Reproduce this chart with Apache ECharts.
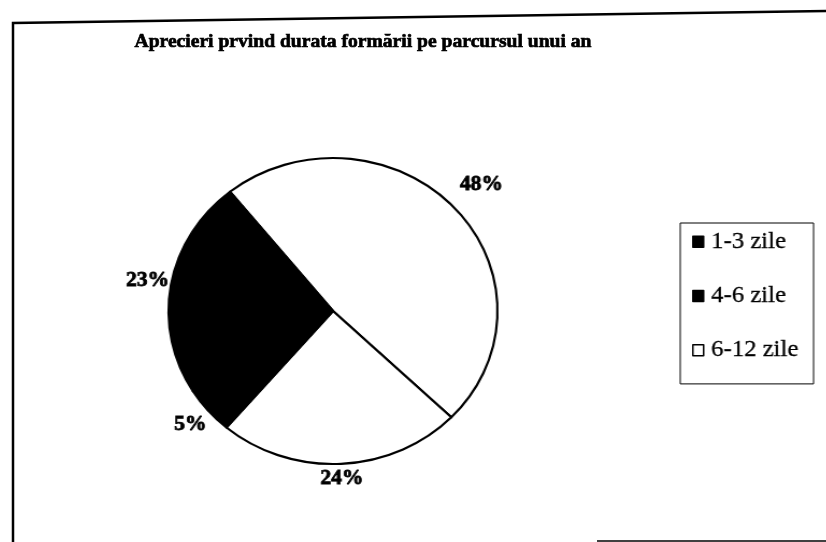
<!DOCTYPE html>
<html>
<head>
<meta charset="utf-8">
<script src="https://cdn.jsdelivr.net/npm/echarts@6/dist/echarts.min.js"></script>
<style>
  html, body { margin: 0; padding: 0; background: #fff; }
  #wrap { position: relative; width: 826px; height: 542px; overflow: hidden; }
  #frame, #pie { position: absolute; left: 0; top: 0; width: 826px; height: 542px; }
  /* the pie layer is widened a little so the disc reads as a slightly flattened ellipse */
  #pie { transform-origin: 333px 311px; transform: scale(1.075, 1); }
</style>
</head>
<body>
<div id="wrap">
  <div id="frame"></div>
  <div id="pie"></div>
</div>
<script>
// Slice names and shares (percent), clockwise from the upper-left edge
const sliceNames = ['6-12 zile', 'peste 12 zile', '4-6 zile', '1-3 zile'];
const sliceValues = [48, 24, 5, 23];
const sliceColors = ['#ffffff', '#ffffff', '#000000', '#000000'];
// Entries listed in the legend box
const legendNames = ['1-3 zile', '4-6 zile', '6-12 zile'];
const titleText = 'Aprecieri prvind durata formării pe parcursul unui an';

const SERIF = '"Liberation Serif", "Times New Roman", serif';

// Geometry of the pie (in the pie layer's own coordinates)
const CX = 333, CY = 311, R = 153;
const START_ANGLE = 128.8;              // ECharts convention: degrees CCW from 3 o'clock
const labelGaps = [34, 15, 22, 22];     // how far each label centre sits beyond the rim

const total = sliceValues.reduce((a, b) => a + b, 0);

// Background layer: title and the hand-ruled frame
const frameChart = echarts.init(document.getElementById('frame'));
frameChart.setOption({
  animation: false,
  backgroundColor: '#ffffff',
  title: {
    text: titleText,
    left: 358,
    textAlign: 'center',
    top: 27,
    textStyle: {
      fontFamily: SERIF,
      fontWeight: 'bold',
      fontSize: 19.6,
      color: '#000',
      textBorderColor: '#000',
      textBorderWidth: 0.7
    }
  },
  graphic: [
    {
      type: 'polyline',
      shape: { points: [[826, 11], [13, 23], [13, 542]] },
      style: { stroke: '#000', lineWidth: 2.5, fill: null }
    },
    {
      type: 'line',
      shape: { x1: 597, y1: 541, x2: 826, y2: 541 },
      style: { stroke: '#000', lineWidth: 1.5 }
    }
  ]
});

// Pie layer: slices, percentage labels and the legend box
const pieChart = echarts.init(document.getElementById('pie'));
const seriesData = sliceNames.map((name, i) => ({
  name: name,
  value: sliceValues[i],
  itemStyle: { color: sliceColors[i] }
}));

pieChart.setOption({
  animation: false,
  legend: {
    data: legendNames,
    orient: 'vertical',
    left: 656,
    top: 223,
    itemGap: 31,
    itemWidth: 10,
    itemHeight: 11,
    icon: 'rect',
    padding: [7, 14, 22, 11],
    borderColor: '#000',
    borderWidth: 1,
    selectedMode: false,
    itemStyle: { borderColor: '#000', borderWidth: 1.5 },
    textStyle: {
      fontFamily: SERIF,
      fontSize: 23,
      color: '#000',
      textBorderColor: '#000',
      textBorderWidth: 0.3,
      padding: [0, 0, 0, 2]
    }
  },
  series: [{
    type: 'pie',
    center: [CX, CY],
    radius: R,
    startAngle: START_ANGLE,
    clockwise: true,
    data: seriesData,
    itemStyle: { borderColor: '#000', borderWidth: 2.2 },
    label: {
      show: true,
      position: 'outside',
      formatter: '{c}%',
      fontFamily: SERIF,
      fontWeight: 'bold',
      fontSize: 20,
      color: '#000',
      textBorderColor: '#000',
      textBorderWidth: 0.8
    },
    labelLine: { show: false },
    // centre each label on the bisector of its slice, just outside the rim
    labelLayout: function (p) {
      const i = p.dataIndex;
      let before = 0;
      for (let j = 0; j < i; j++) before += sliceValues[j];
      const midCW = (90 - START_ANGLE) + (before + sliceValues[i] / 2) / total * 360;
      const rad = midCW * Math.PI / 180;
      const d = R + labelGaps[i];
      return {
        x: CX + d * Math.sin(rad),
        y: CY - d * Math.cos(rad),
        align: 'center',
        verticalAlign: 'middle'
      };
    },
    emphasis: { disabled: true }
  }]
});
</script>
</body>
</html>
